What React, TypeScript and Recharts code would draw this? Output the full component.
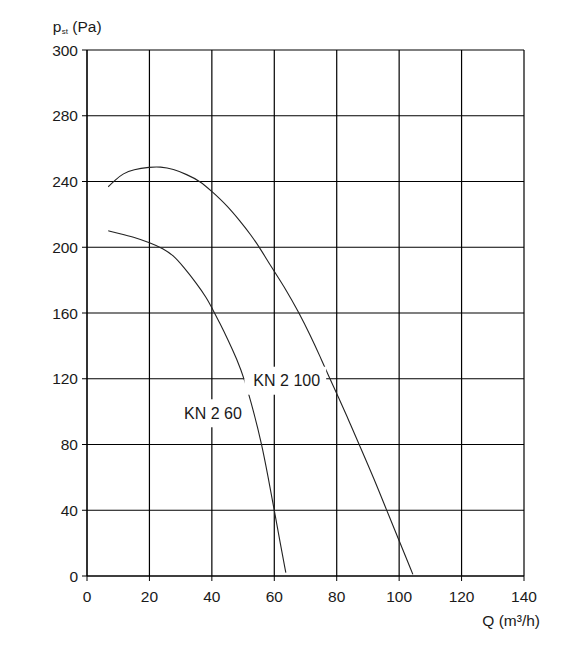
import React from 'react'
import {
  LineChart,
  Line,
  XAxis,
  YAxis,
  CartesianGrid,
  ReferenceDot,
} from 'recharts'

// flow Q (m³/h) and static pressure p_st (Pa)
const kn260Q = [6.8, 10, 14.8, 20.2, 24.4, 27.7, 30.9, 35.1, 38.4, 40.1, 42.6, 45.1, 48, 50.4, 53.4, 56, 58, 60, 62, 63.7]
const kn260P = [210, 208.5, 206.4, 202.7, 199.3, 195, 188.1, 178, 169, 162.8, 153.7, 144, 132, 120, 100, 80, 60.5, 40, 19, 2]

const kn2100Q = [6.8, 9, 11.6, 14.8, 20.2, 23.4, 27.7, 31.9, 36.2, 40.1, 44.8, 49, 52.5, 55.4, 58.9, 64, 67.7, 71.5, 74.7, 77.9, 80.5, 84, 87.2, 92, 96, 100, 104.4]
const kn2100P = [236.8, 240.9, 244.9, 247.3, 248.8, 249, 247.6, 244.3, 240.3, 233.8, 225.5, 216, 207.5, 199.5, 188.5, 173.5, 160.8, 146.6, 133.4, 119.6, 109.1, 94, 80, 59, 40, 21.5, 1]

const xTicks = [0, 20, 40, 60, 80, 100, 120, 140]
const yTicks = [0, 40, 80, 120, 160, 200, 240, 280, 320]
// the original sheet labels its top gridline "300"
const yTickLabels = ['0', '40', '80', '120', '160', '200', '240', '280', '300']

const curveNames = ['KN 2 60', 'KN 2 100']
const curveNameQ = [31.1, 53.3]
const curveNameP = [99, 118.8]

const kn260 = kn260Q.map((q, i) => ({ q, p: kn260P[i] }))
const kn2100 = kn2100Q.map((q, i) => ({ q, p: kn2100P[i] }))

const FONT = '"Liberation Sans", Arial, Helvetica, sans-serif'
const INK = '#1a1a1a'

function NameTag({ cx, cy, text }: { cx?: number; cy?: number; text: string }) {
  if (cx == null || cy == null) return null
  const w = text.length * 8.6
  return (
    <g>
      <rect x={cx - 9} y={cy - 14} width={w + 13} height={28} fill="#fff" />
      <text x={cx} y={cy} dy="0.36em" fontSize={16} fontFamily={FONT} fill={INK}>
        {text}
      </text>
    </g>
  )
}

const yTitle = (props: any) => {
  const vb = props.viewBox || { x: 0, y: 50 }
  const x = vb.x + 52.7
  const y = vb.y - 18.3
  return (
    <g fontFamily={FONT} fill={INK}>
      <text x={x} y={y} fontSize={15.5}>p</text>
      <text x={x + 9} y={y + 2.6} fontSize={8}>st</text>
      <text x={x + 19.6} y={y} fontSize={15.5}>(Pa)</text>
    </g>
  )
}

const xTitle = (props: any) => {
  const vb = props.viewBox || { x: 87, y: 576, width: 437 }
  return (
    <text
      x={vb.x + vb.width + 16}
      y={vb.y + 50}
      textAnchor="end"
      fontSize={15.5}
      fontFamily={FONT}
      fill={INK}
    >
      Q (m³/h)
    </text>
  )
}

export default function App() {
  const tick = { fontSize: 15.5, fontFamily: FONT, fill: INK }
  return (
    <div style={{ position: 'absolute', left: 0, top: 0, background: '#fff' }}>
      <LineChart width={565} height={645} margin={{ top: 50, right: 41, bottom: 0, left: 0 }}>
        <CartesianGrid stroke="#000" strokeWidth={1.2} />
        <XAxis
          type="number"
          dataKey="q"
          domain={[0, 140]}
          ticks={xTicks}
          interval={0}
          height={69}
          tickSize={5}
          tickMargin={10}
          stroke="#000"
          tick={tick}
          label={{ content: xTitle }}
        />
        <YAxis
          type="number"
          dataKey="p"
          domain={[0, 320]}
          ticks={yTicks}
          interval={0}
          width={87}
          tickSize={5}
          tickMargin={4}
          stroke="#000"
          tick={tick}
          tickFormatter={(v: number) => yTickLabels[yTicks.indexOf(v)]}
          label={{ content: yTitle }}
        />
        {curveNames.map((name, i) => (
          <ReferenceDot
            key={name}
            x={curveNameQ[i]}
            y={curveNameP[i]}
            r={0}
            shape={(p: any) => <NameTag cx={p.cx} cy={p.cy} text={name} />}
          />
        ))}
        <Line
          data={kn260}
          dataKey="p"
          type="basis"
          stroke="#222"
          strokeWidth={1.1}
          dot={false}
          isAnimationActive={false}
        />
        <Line
          data={kn2100}
          dataKey="p"
          type="basis"
          stroke="#222"
          strokeWidth={1.1}
          dot={false}
          isAnimationActive={false}
        />
      </LineChart>
    </div>
  )
}
